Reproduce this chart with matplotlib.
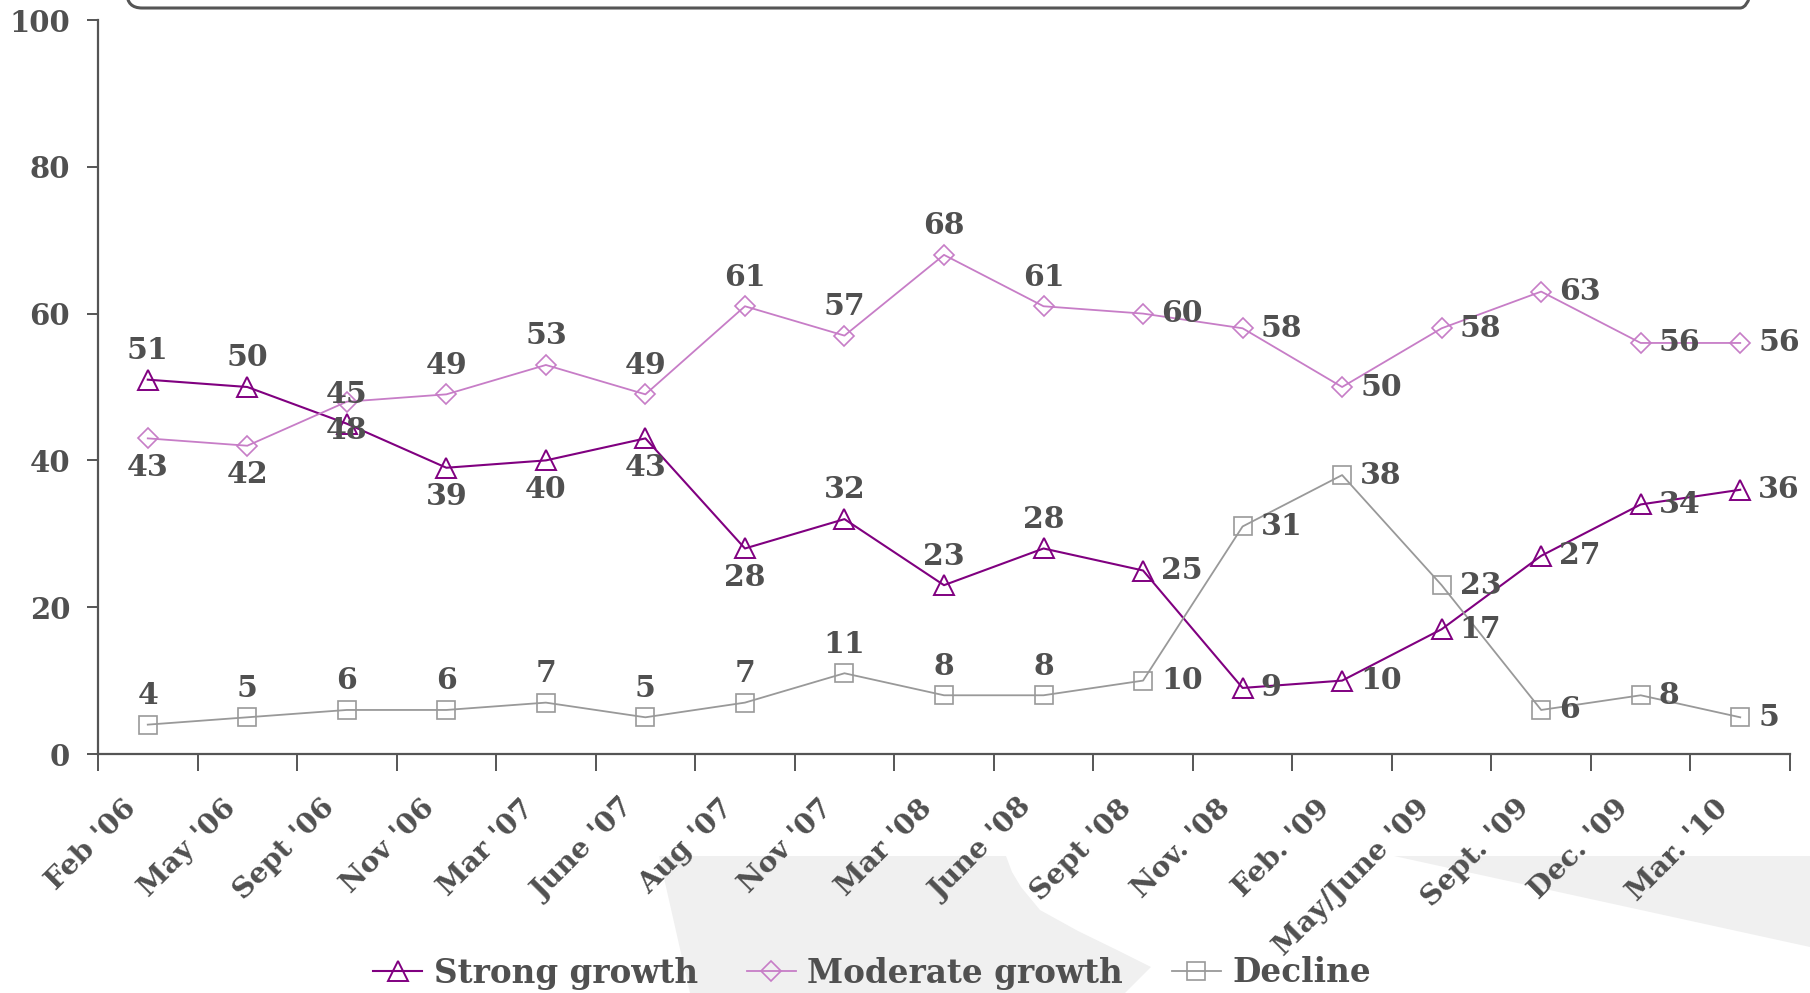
import matplotlib
matplotlib.use("Agg")
import matplotlib.pyplot as plt
from matplotlib.patches import Polygon, FancyBboxPatch
from matplotlib.lines import Line2D
import matplotlib.transforms as mtransforms

categories = ["Feb '06", "May '06", "Sept '06", "Nov '06", "Mar '07", "June '07",
              "Aug '07", "Nov '07", "Mar '08", "June '08", "Sept '08", "Nov. '08",
              "Feb. '09", "May/June '09", "Sept. '09", "Dec. '09", "Mar. '10"]
strong = [51, 50, 45, 39, 40, 43, 28, 32, 23, 28, 25, 9, 10, 17, 27, 34, 36]
moderate = [43, 42, 48, 49, 53, 49, 61, 57, 68, 61, 60, 58, 50, 58, 63, 56, 56]
decline = [4, 5, 6, 6, 7, 5, 7, 11, 8, 8, 10, 31, 38, 23, 6, 8, 5]
series_names = ["Strong growth", "Moderate growth", "Decline"]
y_ticks = [0, 20, 40, 60, 80, 100]

strong_pos = ['a', 'a', 'a', 'b', 'b', 'b', 'b', 'a', 'a', 'a', 'r', 'r', 'r', 'r', 'r', 'r', 'r']
moderate_pos = ['b', 'b', 'b', 'a', 'a', 'a', 'a', 'a', 'a', 'a', 'r', 'r', 'r', 'r', 'r', 'r', 'r']
decline_pos = ['a'] * 10 + ['r'] * 7

TXT = '#505050'
FONT = 'DejaVu Serif'
W, H = 1810, 993
fig = plt.figure(figsize=(W / 100, H / 100), dpi=100)

# background decorative shapes (pixel coords)
bg = fig.add_axes([0, 0, 1, 1], zorder=0)
bg.set_xlim(0, W)
bg.set_ylim(H, 0)
bg.axis('off')
bg.add_patch(Polygon([(659, 856), (1006, 856), (1012, 872), (1021, 887), (1040, 910),
                      (1078, 931), (1117, 950), (1151, 967), (1125, 993), (690, 993)],
                     closed=True, facecolor='#f0f0f0', edgecolor='none'))
bg.add_patch(Polygon([(1394, 856), (1810, 856), (1810, 947)], closed=True,
                     facecolor='#f0f0f0', edgecolor='none'))
bg.add_patch(FancyBboxPatch((127 + 15, -60), 1755 - 127 - 30, 68 - 15,
                            boxstyle="round,pad=15", facecolor='none',
                            edgecolor='#555555', linewidth=2.2))

ax = fig.add_axes([98 / W, 1 - 754 / H, (1790 - 98) / W, (754 - 20) / H], zorder=1)
ax.patch.set_alpha(0)
n = len(categories)
x = [i + 0.5 for i in range(n)]
ax.set_xlim(0, n)
ax.set_ylim(0, 100)

ax.plot(x, strong, color='#800080', lw=1.5, marker='^', ms=14, mfc='none', mec='#800080', mew=1.4)
ax.plot(x, moderate, color='#c77dc7', lw=1.3, marker='D', ms=10, mfc='none', mec='#c77dc7', mew=1.2)
ax.plot(x, decline, color='#999999', lw=1.3, marker='s', ms=12.5, mfc='none', mec='#999999', mew=1.2)

lab_fs = 21.5
def label(vals, poss):
    for xi, v, p in zip(x, vals, poss):
        if p == 'a':
            ax.annotate(str(v), (xi, v), xytext=(0, 21), textcoords='offset points',
                        ha='center', va='center', fontsize=lab_fs, fontweight='bold',
                        family=FONT, color=TXT)
        elif p == 'b':
            ax.annotate(str(v), (xi, v), xytext=(0, -21), textcoords='offset points',
                        ha='center', va='center', fontsize=lab_fs, fontweight='bold',
                        family=FONT, color=TXT)
        else:
            ax.annotate(str(v), (xi, v), xytext=(13, 0), textcoords='offset points',
                        ha='left', va='center', fontsize=lab_fs, fontweight='bold',
                        family=FONT, color=TXT)

label(strong, strong_pos)
label(moderate, moderate_pos)
label(decline, decline_pos)

for s in ['top', 'right']:
    ax.spines[s].set_visible(False)
for s in ['left', 'bottom']:
    ax.spines[s].set_color('#555555')
    ax.spines[s].set_linewidth(1.6)

ax.set_yticks(y_ticks)
ax.set_yticklabels([str(t) for t in y_ticks], fontsize=21, fontweight='bold', family=FONT, color=TXT)
ax.tick_params(axis='y', length=8, width=1.4, color='#555555', pad=12)

ax.set_xticks(range(n + 1), minor=True)
ax.set_xticks(x)
ax.tick_params(axis='x', which='minor', length=12, width=1.4, color='#555555')
ax.tick_params(axis='x', which='major', length=0, pad=36)
ax.set_xticklabels(categories, rotation=45, ha='right', va='center', rotation_mode='anchor',
                   fontsize=20.5, fontweight='bold', family=FONT, color=TXT)
off = mtransforms.ScaledTranslation(-16 / 100, 0, fig.dpi_scale_trans)
for t in ax.get_xticklabels():
    t.set_transform(t.get_transform() + off)

handles = [
    Line2D([], [], color='#800080', lw=1.5, marker='^', ms=14, mfc='none', mec='#800080', mew=1.4),
    Line2D([], [], color='#c77dc7', lw=1.3, marker='D', ms=10, mfc='none', mec='#c77dc7', mew=1.2),
    Line2D([], [], color='#999999', lw=1.3, marker='s', ms=12.5, mfc='none', mec='#999999', mew=1.2),
]
leg = fig.legend(handles, series_names, loc='center', bbox_to_anchor=(872 / W, 1 - 973 / H),
                 ncol=3, frameon=False, handlelength=1.5, handletextpad=0.35,
                 columnspacing=1.5, prop={'family': FONT, 'weight': 'bold', 'size': 23.5})
for t in leg.get_texts():
    t.set_color(TXT)

fig.savefig('out.png', dpi=100)
